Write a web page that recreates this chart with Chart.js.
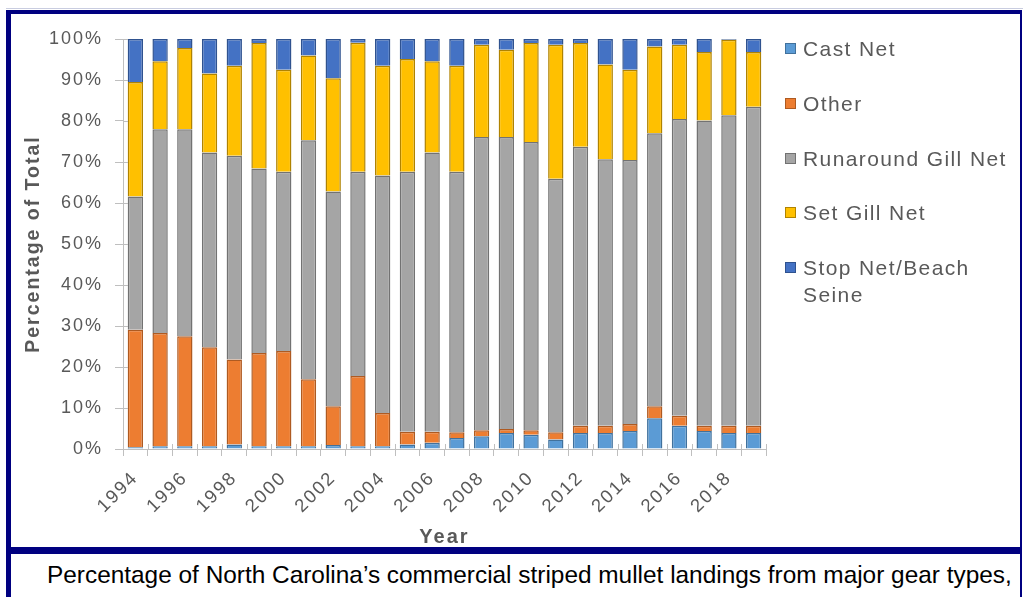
<!DOCTYPE html>
<html>
<head>
<meta charset="utf-8">
<script src="https://cdn.jsdelivr.net/npm/chart.js@4/dist/chart.umd.min.js"></script>
<style>
  html, body { margin: 0; padding: 0; background: #fff; width: 1026px; height: 597px; overflow: hidden; }
  #topline { position: absolute; left: 6px; top: 8px; width: 1017px; height: 1px; background: #c9cde0; }
  #frame { position: absolute; left: 6px; top: 10px; width: 1009px; height: 533px;
           border-style: solid; border-color: #000080; border-width: 4px 2px 7px 5px; }
  #caption { position: absolute; left: 6px; top: 554px; width: 1009px; height: 60px;
             border-style: solid; border-color: #000080; border-width: 0 2px 0 5px; }
  #captext { position: absolute; left: 36px; top: 9px; white-space: nowrap; line-height: 1;
             font-family: "Liberation Sans", Arial, sans-serif; font-size: 24.4px; color: #000; }
  #wrap { position: absolute; left: 11px; top: 14px; width: 1009px; height: 533px; }
  #legend { position: absolute; left: 785px; top: 35px; font-family: "Liberation Sans", Arial, sans-serif;
            font-size: 21px; color: #595959; letter-spacing: 1.4px; }
  .li { position: absolute; left: 0; white-space: nowrap; line-height: 27px; }
  .sw { position: absolute; left: 0; top: 8px; width: 9px; height: 9px; border: 1px solid; }
  .tx { position: absolute; left: 18px; top: 0; }
</style>
</head>
<body>
<div id="topline"></div>
<div id="frame"></div>
<div id="wrap"><canvas id="c" width="1009" height="533"></canvas></div>
<div id="legend"></div>
<div id="caption"><div id="captext">Percentage of North Carolina’s commercial striped mullet landings from major gear types,</div></div>
<script>
const years = ['1994','1995','1996','1997','1998','1999','2000','2001','2002','2003','2004','2005','2006',
               '2007','2008','2009','2010','2011','2012','2013','2014','2015','2016','2017','2018','2019'];
const castNet    = [0.4,0.7,0.7,0.7,1.1,0.7,0.7,0.7,1.0,0.7,0.7,1.1,1.5,2.7,3.1,3.9,3.5,2.3,3.9,3.9,4.4,7.5,5.7,4.4,3.9,3.9];
const other      = [28.7,27.6,26.8,24.1,20.7,22.7,23.2,16.3,9.4,17.1,8.1,3.1,2.7,1.4,1.5,1.0,1.1,1.8,1.8,1.8,1.7,2.9,2.4,1.3,1.8,1.8];
const runaround  = [32.5,49.7,50.5,47.5,49.7,45.0,43.7,58.3,52.4,49.8,57.9,63.4,68.1,63.5,71.5,71.2,70.3,61.8,68.0,65.0,64.4,66.6,72.4,74.4,75.7,77.8];
const setGillNet = [27.9,16.6,19.8,19.3,22.0,30.6,24.9,20.7,27.6,31.5,26.8,27.5,22.3,25.9,22.5,21.3,24.1,32.7,25.3,23.1,22.0,21.2,18.1,16.7,18.4,13.3];
const stopNet    = [10.5,5.4,2.2,8.4,6.5,1.0,7.5,4.0,9.6,0.9,6.5,4.9,5.4,6.5,1.4,2.6,1.0,1.4,1.0,6.2,7.5,1.8,1.4,3.2,0.2,3.2];
const seriesNames = ['Cast Net','Other','Runaround Gill Net','Set Gill Net','Stop Net/Beach Seine'];
const yTicks = [0,10,20,30,40,50,60,70,80,90,100];

const fills   = ['#5B9BD5','#ED7D31','#A5A5A5','#FFC000','#4472C4'];
const borders = ['#41719C','#AE5A21','#727272','#B08300','#2F528F'];
const seriesData = [castNet, other, runaround, setGillNet, stopNet];

const datasets = seriesNames.map((n, i) => ({
  label: n, data: seriesData[i], backgroundColor: fills[i], borderColor: borders[i],
  borderWidth: 1.5, barPercentage: 0.62, categoryPercentage: 1.0
}));

const grey = '#595959';
const axisCol = '#BFBFBF';

const crossTicks = {
  id: 'crossTicks',
  afterDatasetsDraw(chart) {
    const ctx = chart.ctx, x = chart.scales.x, y = chart.scales.y, a = chart.chartArea;
    ctx.save();
    ctx.strokeStyle = axisCol; ctx.lineWidth = 1;
    ctx.beginPath();
    yTicks.forEach(v => { const py = Math.round(y.getPixelForValue(v)) + 0.5; ctx.moveTo(a.left, py); ctx.lineTo(a.left + 5, py); });
    for (let i = 0; i <= years.length; i++) {
      const px = Math.round(x.left + (x.right - x.left) * i / years.length) + 0.5;
      ctx.moveTo(px, a.bottom); ctx.lineTo(px, a.bottom - 5);
    }
    ctx.stroke();
    ctx.restore();
  }
};
const spacing = {
  id: 'spacing',
  beforeDraw(chart) { chart.ctx.letterSpacing = '2px'; },
  afterDraw(chart) { chart.ctx.letterSpacing = '0px'; }
};

new Chart(document.getElementById('c'), {
  type: 'bar',
  data: { labels: years, datasets },
  plugins: [spacing, crossTicks],
  options: {
    responsive: false, animation: false,
    layout: { padding: { left: 0, right: 254, top: 25, bottom: 0 } },
    plugins: { legend: { display: false }, tooltip: { enabled: false } },
    scales: {
      x: {
        stacked: true,
        grid: { offset: true, drawOnChartArea: false, color: axisCol, tickLength: 7 },
        border: { color: axisCol },
        ticks: { autoSkip: false, maxRotation: 45, minRotation: 45, color: grey, padding: 11,
                 font: { family: 'Liberation Sans', size: 18.5 },
                 callback: function(v, i) { return i % 2 === 0 ? years[i] : ''; } },
        title: { display: true, text: 'Year', color: grey, font: { family: 'Liberation Sans', size: 20, weight: 'bold' },
                 padding: { top: 0, bottom: -2 } },
        afterFit(s) { s.height = 98; }
      },
      y: {
        stacked: true, min: 0, max: 100,
        afterBuildTicks(s) { s.ticks = yTicks.map(v => ({ value: v })); },
        grid: { drawOnChartArea: false, color: axisCol, tickLength: 8 },
        border: { color: axisCol },
        ticks: { color: grey, padding: 12, font: { family: 'Liberation Sans', size: 18 },
                 callback: v => v + '%' },
        title: { display: true, text: 'Percentage of Total', color: grey,
                 font: { family: 'Liberation Sans', size: 19.5, weight: 'bold' }, padding: { top: 11, bottom: 0 } },
        afterFit(s) { s.width = 112; }
      }
    }
  }
});

// HTML legend built from the series
const lg = document.getElementById('legend');
const rowsTop = [0, 55, 110, 164, 219];
seriesNames.forEach((n, i) => {
  const d = document.createElement('div');
  d.className = 'li'; d.style.top = rowsTop[i] + 'px';
  const sw = document.createElement('div'); sw.className = 'sw';
  sw.style.background = fills[i]; sw.style.borderColor = borders[i];
  const t = document.createElement('div'); t.className = 'tx';
  t.innerHTML = n === 'Stop Net/Beach Seine' ? 'Stop Net/Beach<br>Seine' : n;
  d.appendChild(sw); d.appendChild(t); lg.appendChild(d);
});
</script>
</body>
</html>
